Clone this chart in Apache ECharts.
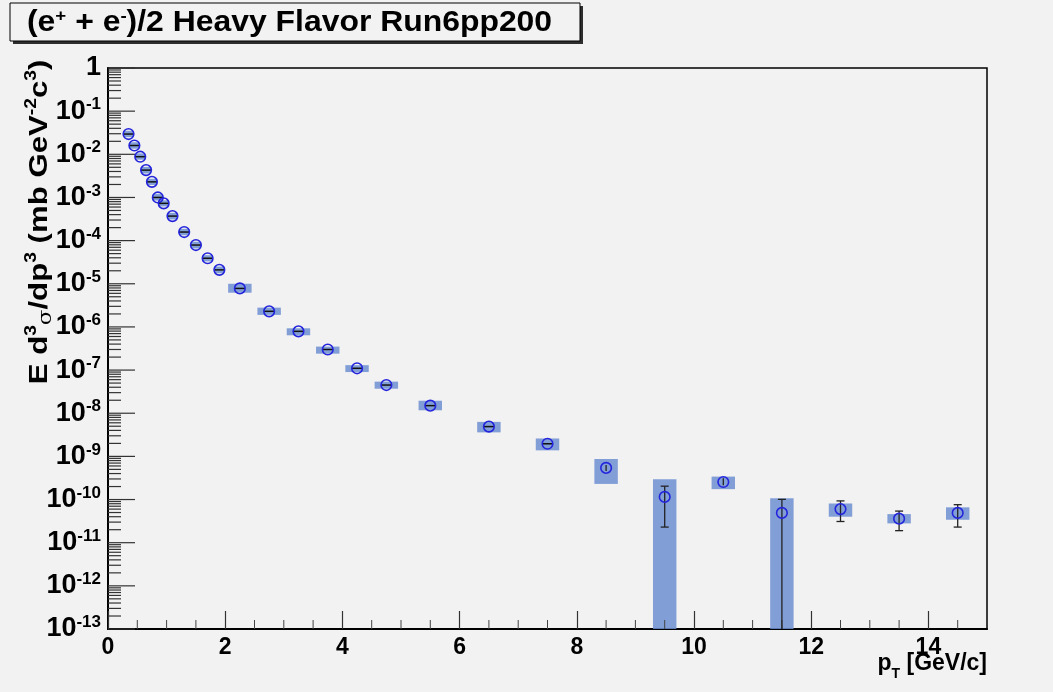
<!DOCTYPE html>
<html>
<head>
<meta charset="utf-8">
<script src="https://cdn.jsdelivr.net/npm/echarts@6/dist/echarts.min.js"></script>
<style>
  html, body { margin: 0; padding: 0; background: #f2f2f2; }
  #main { width: 1053px; height: 692px; }
</style>
</head>
<body>
<div id="main"></div>
<script>
// pT bin centres [GeV/c]
const ptValues = [0.35, 0.45, 0.55, 0.65, 0.75, 0.85, 0.95, 1.1, 1.3, 1.5, 1.7, 1.9,
  2.25, 2.75, 3.25, 3.75, 4.25, 4.75, 5.5, 6.5, 7.5, 8.5, 9.5, 10.5, 11.5, 12.5, 13.5, 14.5];
// E d3sigma/dp3 [mb GeV^-2 c^3]
const crossSection = [2.95e-2, 1.6e-2, 8.8e-3, 4.3e-3, 2.3e-3, 1.0e-3, 7.3e-4, 3.7e-4, 1.58e-4, 7.9e-5, 3.9e-5, 2.1e-5,
  7.8e-6, 2.3e-6, 7.9e-7, 3.0e-7, 1.1e-7, 4.5e-8, 1.5e-8, 4.9e-9, 1.96e-9, 5.4e-10, 1.15e-10, 2.55e-10, 4.9e-11, 6.0e-11, 3.6e-11, 4.9e-11];
// systematic boxes
const sysLow = [2.5e-2, 1.35e-2, 7.5e-3, 3.6e-3, 1.95e-3, 8.5e-4, 6.2e-4, 3.1e-4, 1.33e-4, 6.6e-5, 3.3e-5, 1.75e-5,
  6.2e-6, 1.9e-6, 6.4e-7, 2.4e-7, 9.0e-8, 3.7e-8, 1.17e-8, 3.6e-9, 1.38e-9, 2.3e-10, 1e-13, 1.74e-10, 1e-13, 4.0e-11, 2.8e-11, 3.4e-11];
const sysHigh = [3.5e-2, 1.9e-2, 1.05e-2, 5.1e-3, 2.7e-3, 1.2e-3, 8.6e-4, 4.4e-4, 1.88e-4, 9.4e-5, 4.6e-5, 2.5e-5,
  1.0e-5, 2.8e-6, 9.3e-7, 3.5e-7, 1.3e-7, 5.4e-8, 1.95e-8, 6.3e-9, 2.6e-9, 8.7e-10, 2.95e-10, 3.4e-10, 1.07e-10, 8.1e-11, 4.6e-11, 6.6e-11];
const sysHalfWidth = [0.09, 0.09, 0.09, 0.09, 0.09, 0.09, 0.09, 0.09, 0.09, 0.09, 0.09, 0.09,
  0.2, 0.2, 0.2, 0.2, 0.2, 0.2, 0.2, 0.2, 0.2, 0.2, 0.2, 0.2, 0.2, 0.2, 0.2, 0.2];
// statistical errors (0 = smaller than marker)
const statLow = [0, 0, 0, 0, 0, 0, 0, 0, 0, 0, 0, 0,
  0, 0, 0, 0, 0, 0, 0, 0, 0, 4.6e-10, 2.3e-11, 2.15e-10, 1e-13, 3.1e-11, 1.9e-11, 2.3e-11];
const statHigh = [0, 0, 0, 0, 0, 0, 0, 0, 0, 0, 0, 0,
  0, 0, 0, 0, 0, 0, 0, 0, 0, 6.3e-10, 2.04e-10, 3.1e-10, 1.01e-10, 9.3e-11, 5.4e-11, 7.6e-11];

const xMin = 0, xMax = 15, xStep = 2;
const yMin = 1e-13, yMax = 1;

// ROOT style minor ticks
const minorXTicks = [];
for (let v = 0.5; v < xMax; v += 0.5) { if (v % xStep !== 0) minorXTicks.push(v); }
const majorYTicks = [];
const minorYTicks = [];
for (let e = -13; e <= 0; e++) {
  majorYTicks.push(Math.pow(10, e));
  if (e < 0) for (let k = 2; k <= 9; k++) minorYTicks.push(k * Math.pow(10, e));
}

const FONT = 'Liberation Sans';
const chart = echarts.init(document.getElementById('main'));

function renderBox(params, api) {
  const x = api.value(0), hw = api.value(3);
  const p1 = api.coord([x - hw, api.value(2)]);
  const p2 = api.coord([x + hw, api.value(1)]);
  return {
    type: 'rect',
    shape: { x: p1[0], y: p1[1], width: p2[0] - p1[0], height: p2[1] - p1[1] },
    style: { fill: 'rgba(110,143,210,0.85)' }
  };
}

function renderPoint(params, api) {
  const x = api.value(0);
  const c = api.coord([x, api.value(1)]);
  const sLo = api.value(2), sHi = api.value(3);
  const r = 5.3;
  const kids = [];
  if (sHi > 0) {
    const top = api.coord([x, sHi])[1];
    const bot = api.coord([x, sLo])[1];
    const st = { stroke: '#222', lineWidth: 1.3 };
    kids.push({ type: 'line', shape: { x1: c[0], y1: top, x2: c[0], y2: bot }, style: st });
    if (c[1] - top > r + 1) kids.push({ type: 'line', shape: { x1: c[0] - 4, y1: top, x2: c[0] + 4, y2: top }, style: st });
    if (bot - c[1] > r + 1 && sLo > yMin) kids.push({ type: 'line', shape: { x1: c[0] - 4, y1: bot, x2: c[0] + 4, y2: bot }, style: st });
  } else {
    kids.push({ type: 'line', shape: { x1: c[0] - r, y1: c[1], x2: c[0] + r, y2: c[1] }, style: { stroke: '#111', lineWidth: 1.5 } });
  }
  kids.push({ type: 'circle', shape: { cx: c[0], cy: c[1], r: r }, style: { fill: 'none', stroke: '#2424dc', lineWidth: 1.6 } });
  return { type: 'group', children: kids };
}

function tickRenderer(len) {
  return function (params, api) {
    const p = api.coord([xMin, api.value(0)]);
    return { type: 'line', shape: { x1: p[0], y1: p[1], x2: p[0] + len, y2: p[1] }, style: { stroke: '#333', lineWidth: 1.2 } };
  };
}

function renderMinorX(params, api) {
  const p = api.coord([api.value(0), yMin]);
  return { type: 'line', shape: { x1: p[0], y1: p[1], x2: p[0], y2: p[1] - 9 }, style: { stroke: '#444', lineWidth: 1 } };
}

const option = {
  backgroundColor: '#f2f2f2',
  animation: false,
  grid: {
    left: 108, right: 66, top: 68, bottom: 63,
    show: true, borderColor: '#000', borderWidth: 1.5, backgroundColor: 'transparent',
    outerBoundsMode: 'none'
  },
  xAxis: {
    type: 'value', min: xMin, max: xMax, interval: xStep,
    axisLine: { show: true, lineStyle: { color: '#000', width: 2 } },
    axisTick: { show: true, inside: true, length: 18, lineStyle: { color: '#333', width: 1.2 } },
    axisLabel: {
      showMaxLabel: false, margin: 7, color: '#000',
      fontFamily: FONT, fontWeight: 'bold', fontSize: 23
    },
    splitLine: { show: false }
  },
  yAxis: {
    type: 'log', logBase: 10, min: yMin, max: yMax, interval: 1,
    axisLine: { show: true, lineStyle: { color: '#000', width: 2 } },
    axisTick: { show: false },
    axisLabel: {
      margin: 7, color: '#000',
      formatter: function (v) {
        const e = Math.round(Math.log10(v));
        return e === 0 ? '{b|1}' : '{b|10}{s|' + e + '}';
      },
      rich: {
        b: { fontFamily: FONT, fontWeight: 'bold', fontSize: 27, color: '#000', lineHeight: 30 },
        s: { fontFamily: FONT, fontWeight: 'bold', fontSize: 17, color: '#000', verticalAlign: 'top', lineHeight: 26 }
      }
    },
    splitLine: { show: false }
  },
  graphic: [
    { type: 'rect', shape: { x: 13, y: 6, width: 570, height: 38 }, style: { fill: '#2e2e2e' } },
    { type: 'rect', shape: { x: 10, y: 3, width: 570, height: 38 }, style: { fill: '#f2f2f2', stroke: '#000', lineWidth: 1 } },
    {
      type: 'text', x: 27, y: 23, scaleX: 1.1,
      style: {
        text: '(e{s|+} + e{s|-})/2 Heavy Flavor Run6pp200',
        fontFamily: FONT, fontWeight: 'bold', fontSize: 29, fill: '#000',
        align: 'left', verticalAlign: 'middle',
        rich: { s: { fontFamily: FONT, fontWeight: 'bold', fontSize: 17, fill: '#000', verticalAlign: 'top', lineHeight: 30 } }
      }
    },
    {
      type: 'text', x: 40, y: 222, rotation: Math.PI / 2, scaleX: 1.2,
      style: {
        text: 'E d{s|3}{g|σ}/dp{s|3} (mb GeV{s|-2}c{s|3})',
        fontFamily: FONT, fontWeight: 'bold', fontSize: 26, fill: '#000',
        align: 'center', verticalAlign: 'middle',
        rich: {
          s: { fontFamily: FONT, fontWeight: 'bold', fontSize: 16, fill: '#000', verticalAlign: 'top', lineHeight: 32 },
          g: { fontFamily: 'DejaVu Serif', fontSize: 19, fill: '#000', verticalAlign: 'bottom', lineHeight: 32 }
        }
      }
    },
    {
      type: 'text', x: 987, y: 664,
      style: {
        text: 'p{t|T} [GeV/c]',
        fontFamily: FONT, fontWeight: 'bold', fontSize: 23, fill: '#000',
        align: 'right', verticalAlign: 'middle',
        rich: { t: { fontFamily: FONT, fontWeight: 'bold', fontSize: 14, fill: '#000', verticalAlign: 'bottom', lineHeight: 34 } }
      }
    }
  ],
  series: [
    {
      type: 'custom', name: 'sys', renderItem: renderBox, clip: true, silent: true,
      encode: { x: 0, y: 1 },
      data: ptValues.map((p, i) => [p, sysLow[i], sysHigh[i], sysHalfWidth[i]])
    },
    {
      type: 'custom', name: 'majorY', renderItem: tickRenderer(27), clip: false, silent: true,
      encode: { y: 0 },
      data: majorYTicks.map(v => [v])
    },
    {
      type: 'custom', name: 'minorY', renderItem: tickRenderer(13), clip: false, silent: true,
      encode: { y: 0 },
      data: minorYTicks.map(v => [v])
    },
    {
      type: 'custom', name: 'minorX', renderItem: renderMinorX, clip: false, silent: true,
      encode: { x: 0 },
      data: minorXTicks.map(v => [v])
    },
    {
      type: 'custom', name: 'data', renderItem: renderPoint, clip: true, silent: true,
      encode: { x: 0, y: 1 },
      data: ptValues.map((p, i) => [p, crossSection[i], statLow[i], statHigh[i]])
    }
  ]
};

chart.setOption(option);
</script>
</body>
</html>
